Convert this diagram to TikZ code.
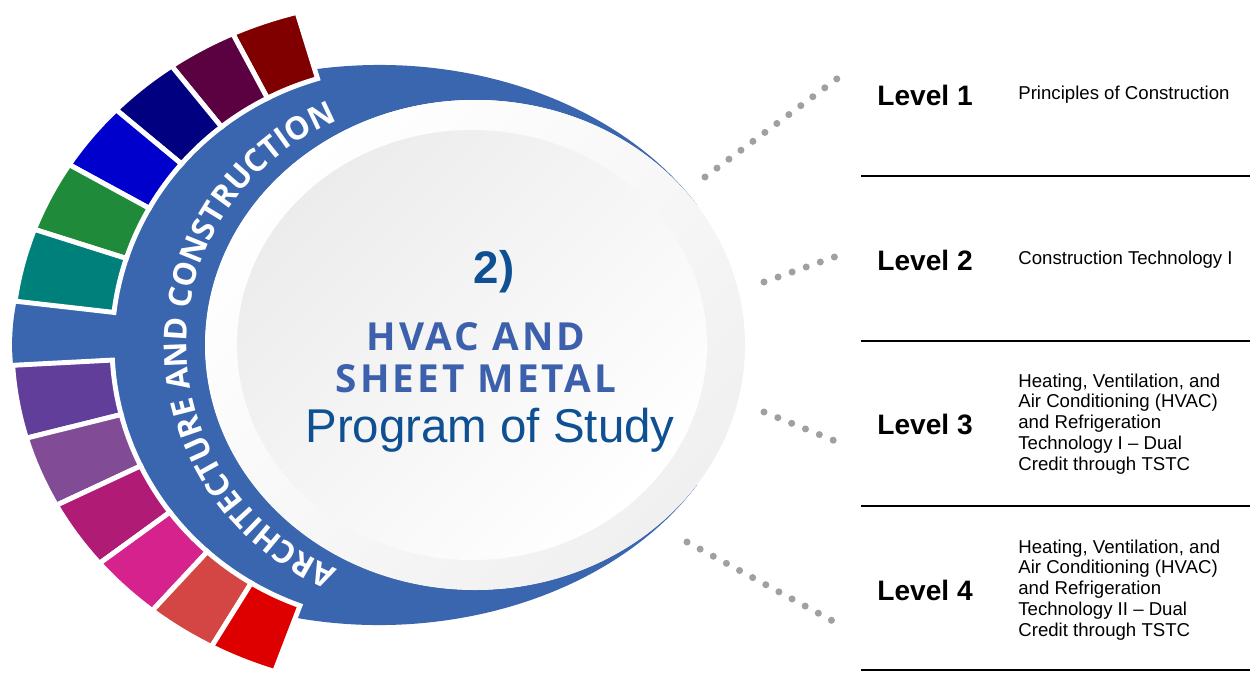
\documentclass[tikz,border=0pt]{standalone}
\usepackage{fontspec}
\setmainfont{Liberation Sans}
\newfontfamily\bandfont{Open Sans}
\usepackage{tikz}
\usetikzlibrary{decorations.text}
\definecolor{bandblue}{RGB}{58,101,175}
\definecolor{hvacblue}{RGB}{60,96,172}
\definecolor{titleblue}{RGB}{14,80,146}
\definecolor{dotgrey}{RGB}{160,160,160}
\definecolor{ringgrey}{RGB}{240,240,240}
\definecolor{discgrey}{RGB}{236,236,236}
\definecolor{segA}{RGB}{128,0,0}
\definecolor{segB}{RGB}{91,0,64}
\definecolor{segC}{RGB}{0,0,128}
\definecolor{segD}{RGB}{0,0,205}
\definecolor{segE}{RGB}{31,138,57}
\definecolor{segF}{RGB}{0,128,122}
\definecolor{segG}{RGB}{96,62,153}
\definecolor{segH}{RGB}{130,75,150}
\definecolor{segI}{RGB}{176,27,118}
\definecolor{segJ}{RGB}{214,34,140}
\definecolor{segK}{RGB}{212,70,68}
\definecolor{segL}{RGB}{222,0,0}
\tikzstyle{level} = [font=\bfseries\fontsize{16}{19}\selectfont, anchor=west, inner sep=0]
\tikzstyle{desc} = [font=\fontsize{10.6}{11.9}\selectfont, anchor=west, align=left, inner sep=0]
\tikzstyle{rule} = [line width=1.1pt]
\tikzstyle{dots} = [dotgrey, line width=4pt, line cap=round, dash pattern=on 0pt off 8.5pt]
\tikzstyle{hvac} = [font=\bandfont\bfseries\fontsize{22}{24}\selectfont\addfontfeature{LetterSpace=8}, text=hvacblue, anchor=base, inner sep=0]
\newcommand{\segout}{100*3.88*3.45/sqrt((3.45*cos(\x))^2+(3.88*sin(\x))^2)}
\newcommand{\segin}{100*2.88*2.78/sqrt((2.78*cos(\x))^2+(2.88*sin(\x))^2)}
\newcommand{\colseg}[3]{\fill[#3, draw=white, line width=2.8pt] plot[domain=#1:#2, samples=12] (\x:{\segout}) -- plot[domain=#2:#1, samples=12] (\x:{\segin}) -- cycle;}
\begin{document}
\begin{tikzpicture}[x=0.02cm, y=0.02cm]
    \fill[white] (0,0) rectangle (1250,-680);
    \useasboundingbox (0,0) rectangle (1250,-680);
    \fill[bandblue] (697,-205) arc[start angle=34.8, end angle=325.2, x radius=270, y radius=245]
      -- (697,-485) arc[start angle=330, end angle=30, x radius=367, y radius=280] -- cycle;
    \shade[top color=white, bottom color=ringgrey, shading angle=45] (475,-345) ellipse [x radius=270, y radius=245];
    \shade[top color=discgrey, bottom color=white, shading angle=45] (472,-345) ellipse [x radius=235, y radius=215];
    \begin{scope}[shift={(400,-345)}]
      \colseg{107.2}{118.25}{segA}
      \colseg{118.25}{129.3}{segB}
      \colseg{129.3}{140.35}{segC}
      \colseg{140.35}{151.4}{segD}
      \colseg{151.4}{162.45}{segE}
      \colseg{162.45}{173.5}{segF}
      \colseg{183}{194}{segG}
      \colseg{194}{205}{segH}
      \colseg{205}{216}{segI}
      \colseg{216}{227}{segJ}
      \colseg{227}{238}{segK}
      \colseg{238}{249}{segL}
    \end{scope}
    \path[decorate, decoration={text along path, text align=center, text color=white,
      text={|\bandfont\bfseries\fontsize{18}{18}\selectfont|ARCHITECTURE AND CONSTRUCTION}}]
      (429,-345) ++(250:242) arc[start angle=250, end angle=110, radius=242];
    \node at (494,-283) [anchor=base, inner sep=0, text=titleblue, font=\bfseries\fontsize{26}{30}\selectfont] (num) {2)};
    \node at (476,-350) [hvac] (hvac1) {HVAC AND};
    \node at (476,-392) [hvac] (hvac2) {SHEET METAL};
    \node at (490,-442) [anchor=base, inner sep=0, text=titleblue, font=\fontsize{27}{30}\selectfont] (pos) {Program of Study};
    \node at (877,-95) [level] (l1) {Level 1};
    \node at (877,-260) [level] (l2) {Level 2};
    \node at (877,-424) [level] (l3) {Level 3};
    \node at (877,-590) [level] (l4) {Level 4};
    \node at (1018,-95) [desc] (d1) {Principles of Construction};
    \node at (1018,-260) [desc] (d2) {Construction Technology I};
    \node at (1018,-424) [desc] (d3) {Heating, Ventilation, and\\Air Conditioning (HVAC)\\and Refrigeration\\Technology I – Dual\\Credit through TSTC};
    \node at (1018,-590) [desc] (d4) {Heating, Ventilation, and\\Air Conditioning (HVAC)\\and Refrigeration\\Technology II – Dual\\Credit through TSTC};
    \draw[rule] (861,-176) -- (1250,-176);
    \draw[rule] (861,-341) -- (1250,-341);
    \draw[rule] (861,-506) -- (1250,-506);
    \draw[rule] (861,-670) -- (1250,-670);
    \coordinate (s1) at (705,-177);
    \coordinate (e1) at (842,-75);
    \coordinate (s2) at (764,-282);
    \coordinate (e2) at (840,-255);
    \coordinate (s3) at (764,-412);
    \coordinate (e3) at (840,-443);
    \coordinate (s4) at (687,-542);
    \coordinate (e4) at (842,-626);
    \draw[dots] (s1) -- (e1);
    \draw[dots] (s2) -- (e2);
    \draw[dots] (s3) -- (e3);
    \draw[dots] (s4) -- (e4);
\end{tikzpicture}
\end{document}
